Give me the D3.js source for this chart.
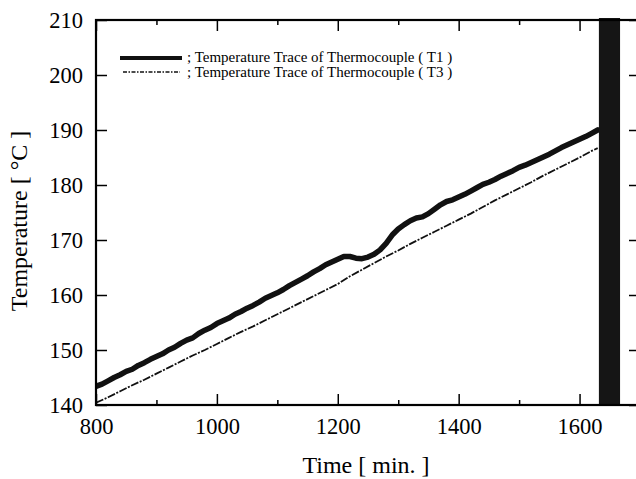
<!DOCTYPE html>
<html><head><meta charset="utf-8">
<script src="https://cdn.jsdelivr.net/npm/d3@7"></script>
<style>
body{margin:0;background:#fff;}
</style></head>
<body><svg id="c" width="636" height="479"></svg>
<script>
// ---- data ----
const timeT1 = [800,810,820,830,840,850,860,870,880,890,900,910,920,930,940,950,960,970,980,990,
1000,1010,1020,1030,1040,1050,1060,1070,1080,1090,1100,1110,1120,1130,1140,1150,1160,1170,1180,1190,
1200,1210,1220,1230,1240,1250,1260,1270,1280,1290,1300,1310,1320,1330,1340,1350,1360,1370,1380,1390,
1400,1410,1420,1430,1440,1450,1460,1470,1480,1490,1500,1510,1520,1530,1540,1550,1560,1570,1580,1590,
1600,1610,1620,1630];
const tempT1 = [143.4,143.8,144.4,145.0,145.5,146.1,146.5,147.2,147.7,148.3,148.8,149.3,150.0,150.5,151.2,151.8,152.2,153.0,153.6,154.1,
154.8,155.3,155.8,156.5,157.0,157.6,158.1,158.7,159.4,159.9,160.4,161.0,161.7,162.3,162.9,163.5,164.2,164.8,165.5,166.0,
166.5,167.0,167.0,166.7,166.6,166.9,167.4,168.2,169.4,170.9,172.0,172.8,173.5,174.0,174.2,174.8,175.6,176.4,177.0,177.3,
177.8,178.3,178.9,179.5,180.1,180.5,181.0,181.6,182.1,182.6,183.2,183.6,184.1,184.6,185.1,185.6,186.2,186.8,187.3,187.8,
188.3,188.8,189.4,190.0];
const timeT3 = [800,820,840,860,880,900,920,940,960,980,1000,1020,1040,1060,1080,1100,1120,1140,1160,1180,
1200,1220,1240,1260,1280,1300,1320,1340,1360,1380,1400,1420,1440,1460,1480,1500,1520,1540,1560,1580,1600,1620,1630];
const tempT3 = [140.4,141.4,142.5,143.6,144.6,145.7,146.8,147.9,149.0,150.0,151.1,152.2,153.3,154.3,155.4,156.5,157.6,158.7,159.8,160.9,
162.0,163.4,164.6,165.8,167.0,168.1,169.3,170.4,171.5,172.6,173.7,174.8,176.0,177.2,178.3,179.4,180.5,181.7,182.8,183.9,185.0,186.2,186.7];
const seriesNames = ["; Temperature Trace of Thermocouple ( T1 )", "; Temperature Trace of Thermocouple ( T3 )"];
const xTicks = [800,1000,1200,1400,1600];
const xMinorTicks = [900,1100,1300,1500,1700];
const yTicks = [140,150,160,170,180,190,200,210];
const markerSpan = [1632,1667];
const xLabel = "Time [ min. ]";
const yLabel = "Temperature [  °C ]";

// ---- layout ----
const svg = d3.select("#c");
const L=96, R=640, T=20, B=405;
const x = d3.scaleLinear().domain([800,1700]).range([L,R]);
const y = d3.scaleLinear().domain([140,210]).range([B,T]);
const fs = 22.5, tfs = 24, lfs = 15;
const FF = "Liberation Serif";

svg.append("defs").append("clipPath").attr("id","cp").append("rect")
  .attr("x",L).attr("y",T).attr("width",R-L).attr("height",B-T);

const g = svg.append("g").attr("clip-path","url(#cp)");
const line = d3.line().x(d=>x(d[0])).y(d=>y(d[1]));

g.append("path").datum(timeT3.map((t,i)=>[t,tempT3[i]]))
  .attr("d",line).attr("fill","none").attr("stroke","#111")
  .attr("stroke-width",1.8).attr("stroke-dasharray","8,1.5,2,1.5");
g.append("path").datum(timeT1.map((t,i)=>[t,tempT1[i]]))
  .attr("d",line).attr("fill","none").attr("stroke","#111")
  .attr("stroke-width",5.5).attr("stroke-linejoin","round").attr("stroke-linecap","round");

svg.append("rect").attr("x",x(markerSpan[0])).attr("width",x(markerSpan[1])-x(markerSpan[0]))
  .attr("y",T-2).attr("height",B-T+3).attr("fill","#151515");

function style(sel){
  sel.attr("font-family",null).attr("font-size",null);
  sel.selectAll(".domain").remove();
  sel.selectAll("line").attr("stroke","#000").attr("stroke-width",1.5);
  sel.selectAll("text").style("font-family",FF).style("font-size",fs+"px").attr("fill","#000");
}
svg.append("g").attr("transform",`translate(0,${B})`)
  .call(d3.axisBottom(x).tickValues(xTicks).tickSize(-11).tickPadding(13).tickFormat(d3.format("d"))).call(style);
svg.append("g").attr("transform",`translate(0,${B})`)
  .call(d3.axisBottom(x).tickValues(xMinorTicks).tickSize(-5).tickFormat("")).call(style);
svg.append("g").attr("transform",`translate(0,${T})`)
  .call(d3.axisTop(x).tickValues(xTicks).tickSize(-11).tickFormat("")).call(style);
svg.append("g").attr("transform",`translate(0,${T})`)
  .call(d3.axisTop(x).tickValues(xMinorTicks).tickSize(-5).tickFormat("")).call(style);
svg.append("g").attr("transform",`translate(${L},0)`)
  .call(d3.axisLeft(y).tickValues(yTicks).tickSize(-11).tickPadding(13).tickFormat(d3.format("d"))).call(style);
svg.append("g").attr("transform",`translate(${R},0)`)
  .call(d3.axisRight(y).tickValues(yTicks).tickSize(-11).tickFormat("")).call(style);

svg.append("rect").attr("x",L).attr("y",T).attr("width",R-L).attr("height",B-T)
  .attr("fill","none").attr("stroke","#000").attr("stroke-width",2.2);

svg.append("text").attr("x",(L+R)/2 - 2).attr("y",473).attr("text-anchor","middle")
  .style("font-family",FF).style("font-size",tfs+"px").text(xLabel);
svg.append("text").attr("transform",`translate(27,221) rotate(-90)`)
  .attr("text-anchor","middle").style("font-family",FF).style("font-size",tfs+"px").text(yLabel);

const lg = svg.append("g");
lg.append("line").attr("x1",120).attr("x2",182).attr("y1",58).attr("y2",58)
  .attr("stroke","#111").attr("stroke-width",4);
lg.append("line").attr("x1",123).attr("x2",180).attr("y1",72).attr("y2",72)
  .attr("stroke","#111").attr("stroke-width",1.3).attr("stroke-dasharray","4,1.5,1.5,1.5");
lg.append("text").attr("x",187).attr("y",62).style("font-family",FF).style("font-size",lfs+"px").text(seriesNames[0]);
lg.append("text").attr("x",187).attr("y",77).style("font-family",FF).style("font-size",lfs+"px").text(seriesNames[1]);
</script></body></html>
